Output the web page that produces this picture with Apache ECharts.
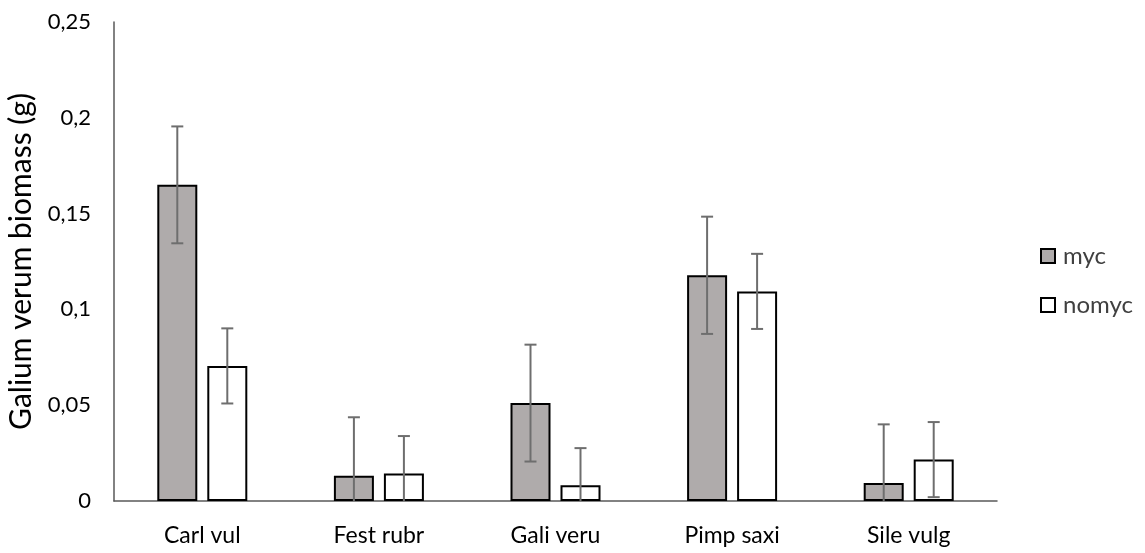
<!DOCTYPE html>
<html>
<head>
<meta charset="utf-8">
<script src="https://cdn.jsdelivr.net/npm/echarts@6/dist/echarts.min.js"></script>
<style>
html,body{margin:0;padding:0;background:#fff;}
#chart{width:1145px;height:553px;}
</style>
</head>
<body>
<div id="chart"></div>
<script>
var categories = ['Carl vul', 'Fest rubr', 'Gali veru', 'Pimp saxi', 'Sile vulg'];
var mycValues = [0.165, 0.0132, 0.0511, 0.1178, 0.0094];
var mycErrors = [0.0305, 0.0305, 0.0305, 0.0306, 0.0306];
var nomycValues = [0.0705, 0.0144, 0.0082, 0.1094, 0.0216];
var nomycErrors = [0.0196, 0.0195, 0.0194, 0.0196, 0.0196];
var seriesNames = ['myc', 'nomyc'];

var FONT = 'Lato, "Liberation Sans", sans-serif';
var BAR_W = 40;
var BAR_GAP_PX = 10;
var OFFSET = (BAR_W + BAR_GAP_PX) / 2;

function errData(vals, errs) {
  return vals.map(function (v, i) { return [i, v, errs[i]]; });
}

function errRender(sign) {
  return function (params, api) {
    var i = api.value(0), v = api.value(1), e = api.value(2);
    var hi = api.coord([i, v + e]);
    var lo = api.coord([i, Math.max(0, v - e)]);
    var x = hi[0] + sign * OFFSET;
    var cap = 6;
    var style = { stroke: '#6e6e6e', lineWidth: 2 };
    var children = [
      { type: 'line', shape: { x1: x, y1: hi[1], x2: x, y2: lo[1] }, style: style },
      { type: 'line', shape: { x1: x - cap, y1: hi[1], x2: x + cap, y2: hi[1] }, style: style }
    ];
    if (v - e > 0) {
      children.push({ type: 'line', shape: { x1: x - cap, y1: lo[1], x2: x + cap, y2: lo[1] }, style: style });
    }
    return { type: 'group', children: children };
  };
}

var chart = echarts.init(document.getElementById('chart'));
chart.setOption({
  animation: false,
  backgroundColor: '#ffffff',
  grid: { left: 114, right: 148, top: 22, bottom: 52, containLabel: false, outerBoundsMode: 'none' },
  legend: {
    orient: 'vertical',
    left: 1040,
    top: 244,
    padding: 0,
    itemWidth: 14,
    itemHeight: 14,
    itemGap: 25,
    icon: 'rect',
    data: seriesNames,
    textStyle: { fontFamily: FONT, fontSize: 24, lineHeight: 24, color: '#404040', padding: [0, 0, 0, 3] }
  },
  xAxis: {
    type: 'category',
    data: categories,
    axisLine: { lineStyle: { color: '#595959', width: 1.5 } },
    axisTick: { show: false },
    axisLabel: { fontFamily: FONT, fontSize: 23, color: '#000', margin: 23 }
  },
  yAxis: {
    type: 'value',
    min: 0,
    max: 0.25,
    interval: 0.05,
    name: 'Galium verum biomass (g)',
    nameLocation: 'middle',
    nameGap: 56,
    nameRotate: 90,
    nameTextStyle: { fontFamily: FONT, fontSize: 30, color: '#000' },
    axisLine: { show: true, lineStyle: { color: '#595959', width: 1.5 } },
    axisTick: { show: false },
    splitLine: { show: false },
    axisLabel: {
      fontFamily: FONT, fontSize: 22, color: '#000', margin: 23,
      formatter: function (v) { return String(Math.round(v * 100) / 100).replace('.', ','); }
    }
  },
  series: [
    {
      name: seriesNames[0], type: 'bar', data: mycValues,
      barWidth: BAR_W, barGap: (BAR_GAP_PX / BAR_W * 100) + '%',
      itemStyle: { color: '#afabab', borderColor: '#000', borderWidth: 2 }
    },
    {
      name: seriesNames[1], type: 'bar', data: nomycValues,
      barWidth: BAR_W,
      itemStyle: { color: '#ffffff', borderColor: '#000', borderWidth: 2 }
    },
    {
      type: 'custom', renderItem: errRender(-1), data: errData(mycValues, mycErrors),
      encode: { x: 0, y: 1 }, z: 10, silent: true
    },
    {
      type: 'custom', renderItem: errRender(1), data: errData(nomycValues, nomycErrors),
      encode: { x: 0, y: 1 }, z: 10, silent: true
    }
  ]
});
</script>
</body>
</html>
